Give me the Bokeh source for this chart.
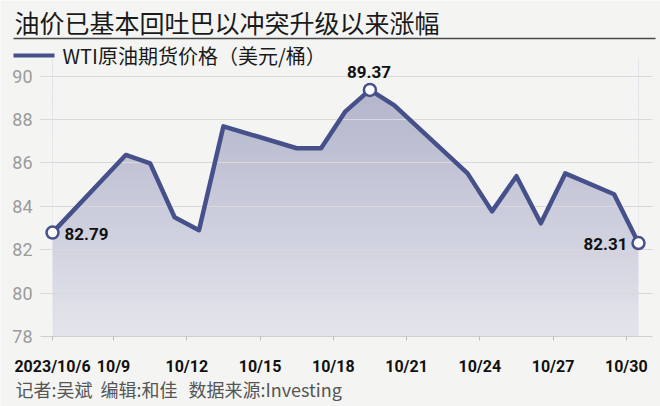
import numpy as np
from bokeh.plotting import figure
from bokeh.models import Range1d, FixedTicker, Label, BoxAnnotation, ColumnDataSource
from bokeh.embed import file_html
from bokeh.resources import INLINE

# ---- data (day offset from 2023/10/6, WTI price USD/bbl) ----
days = [0, 3, 4, 5, 6, 7, 10, 11, 12, 13, 14, 17, 18, 19, 20, 21, 23, 24]
prices = [82.79, 86.37, 85.98, 83.50, 82.90, 87.69, 86.68, 86.68, 88.38, 89.37,
          88.66, 85.52, 83.77, 85.39, 83.22, 85.52, 84.56, 82.31]
x_tick_pos = [0, 2.5, 5.5, 8.5, 11.5, 14.5, 17.5, 20.5, 23.5]
x_tick_labels = ["2023/10/6", "10/9", "10/12", "10/15", "10/18", "10/21", "10/24", "10/27", "10/30"]
y_ticks = [78, 80, 82, 84, 86, 88, 90]

title_text = "油价已基本回吐巴以冲突升级以来涨幅"
legend_text = "WTI原油期货价格（美元/桶）"
footer_texts = ["记者:吴斌", "编辑:和佳", "数据来源:Investing"]

BG = "#f4f5f3"
LINE = "#46508a"
CJK = "Noto Sans CJK SC"
NUM = "Roboto"
W, H = 660, 406

# page-pixel geometry of the plotting area
PX0, PX1 = 40, 652          # left / right of grid
PY_BASE = 336               # pixel row of the y-axis bottom value
PX_DAY0, PX_DAYN = 52, 638  # first / last data column
PX_PER_UNIT = 21.69
ppd = (PX_DAYN - PX_DAY0) / (days[-1] - days[0])

def xd(px): return days[0] + (px - PX_DAY0) / ppd
def yd(py): return y_ticks[0] + (PY_BASE - py) / PX_PER_UNIT

p = figure(width=W, height=H, output_backend="svg", toolbar_location=None,
           x_range=Range1d(xd(0), xd(W)), y_range=Range1d(yd(H), yd(0)))
p.min_border = 0
p.min_border_left = p.min_border_right = p.min_border_top = p.min_border_bottom = 0
p.background_fill_color = BG
p.border_fill_color = BG
p.outline_line_color = None

XL, XR = xd(PX0), xd(PX1)

# gradient fill: horizontal bands under the line, masked above it
top_c = np.array([0xb2, 0xb4, 0xcb])
bot_c = np.array([0xe3, 0xe4, 0xeb])
hi = max(prices)
Y0 = y_ticks[0]
YT = y_ticks[-1] + 0.6
levels = np.arange(Y0, YT, 0.25)
cols = []
for lv in levels:
    t = min(max((lv - Y0) / (hi - Y0), 0), 1)
    c = bot_c + (top_c - bot_c) * t
    cols.append("#%02x%02x%02x" % tuple(int(round(v)) for v in c))
bands = ColumnDataSource(dict(left=[days[0]] * len(levels), right=[days[-1]] * len(levels),
                              bottom=list(levels), top=list(levels + 0.3), color=cols))
r = p.quad(left="left", right="right", bottom="bottom", top="top", source=bands,
           fill_color="color", line_color=None)
r.level = "image"
m = p.varea(x=days, y1=prices, y2=[YT + 0.3] * len(days), fill_color=BG)
m.level = "image"

# grid lines limited to the plotting area
p.xgrid.grid_line_color = None
try:
    p.ygrid.cross_bounds = (XL, XR)
    p.ygrid.ticker = FixedTicker(ticks=y_ticks[1:])
    p.ygrid.grid_line_color = "#d9d9dc"
except AttributeError:
    p.ygrid.grid_line_color = None
    g = p.segment(x0=[XL] * (len(y_ticks) - 1), x1=[XR] * (len(y_ticks) - 1),
                  y0=y_ticks[1:], y1=y_ticks[1:], line_color="#d9d9dc", line_width=1)
    g.level = "underlay"

p.line(days, prices, line_color=LINE, line_width=4.5, line_join="round")

ends = [0, 9, len(days) - 1]
p.scatter([days[i] for i in ends], [prices[i] for i in ends], size=12,
          fill_color="white", line_color=LINE, line_width=2.5)

# axes drawn at fixed positions inside the frame
p.yaxis.fixed_location = XL
p.yaxis.bounds = (y_ticks[0], y_ticks[-1])
p.yaxis.ticker = FixedTicker(ticks=y_ticks)
p.yaxis.axis_line_color = None
p.yaxis.major_tick_line_color = None
p.yaxis.minor_tick_line_color = None
p.yaxis.major_label_text_color = "#9b9b9b"
p.yaxis.major_label_text_font = NUM
p.yaxis.major_label_text_font_size = "18px"
p.yaxis.major_label_standoff = 2

p.xaxis.fixed_location = y_ticks[0]
p.xaxis.bounds = (XL, XR)
p.xaxis.ticker = FixedTicker(ticks=x_tick_pos)
p.xaxis.major_label_overrides = {t: l for t, l in zip(x_tick_pos, x_tick_labels)}
p.xaxis.axis_line_color = "#cfcfd2"
p.xaxis.major_tick_line_color = "#bdbdbd"
p.xaxis.major_tick_in = 0
p.xaxis.major_tick_out = 4
p.xaxis.minor_tick_line_color = None
p.xaxis.major_label_text_font = NUM
p.xaxis.major_label_text_font_style = "bold"
p.xaxis.major_label_text_font_size = "16px"
p.xaxis.major_label_text_color = "#111111"
p.xaxis.major_label_standoff = 16

# value labels
lab_kw = dict(text_font=NUM, text_font_style="bold", text_font_size="17px",
              text_color="#111111", text_baseline="middle")
p.add_layout(Label(x=days[0], y=prices[0], x_offset=12, y_offset=-1, text="%.2f" % prices[0],
                   text_align="left", **lab_kw))
p.add_layout(Label(x=days[9], y=prices[9], x_offset=-1, y_offset=18, text="%.2f" % prices[9],
                   text_align="center", **lab_kw))
p.add_layout(Label(x=days[-1], y=prices[-1], x_offset=-11, y_offset=-1, text="%.2f" % prices[-1],
                   text_align="right", **lab_kw))

# title, rule, legend, footer (screen units, frame = whole canvas)
def sy(py): return H - py
def box(l, r_, b, t, color):
    return BoxAnnotation(left=l, right=r_, bottom=sy(b), top=sy(t),
                         left_units="screen", right_units="screen",
                         bottom_units="screen", top_units="screen",
                         fill_color=color, fill_alpha=1, line_color=None)

p.add_layout(Label(x=14, y=sy(21), x_units="screen", y_units="screen", text=title_text,
                   text_font=CJK, text_font_size="25px", text_color="#1a1a1a",
                   text_baseline="middle", text_align="left"))
p.add_layout(box(13, 655, 38.7, 37.3, "#4a4a4a"))
p.add_layout(box(13, 54, 57, 53, LINE))
p.add_layout(Label(x=62, y=sy(55), x_units="screen", y_units="screen", text=legend_text,
                   text_font=CJK, text_font_size="20px", text_color="#1a1a1a",
                   text_baseline="middle", text_align="left"))
for xx, t in zip([15, 100, 188], footer_texts):
    p.add_layout(Label(x=xx, y=sy(388), x_units="screen", y_units="screen", text=t,
                       text_font=CJK, text_font_size="18px", text_color="#555555",
                       text_baseline="middle", text_align="left"))

open("out.html", "w").write(file_html(p, INLINE))
